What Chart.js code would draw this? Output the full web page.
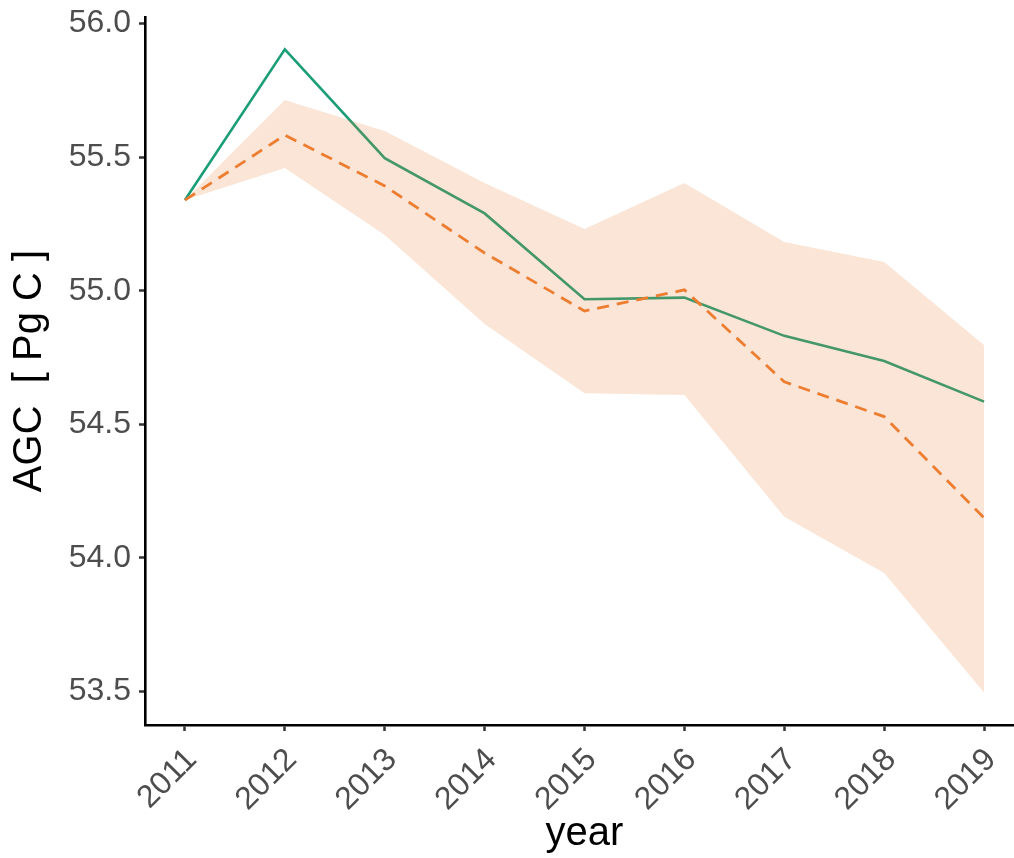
<!DOCTYPE html>
<html>
<head>
<meta charset="utf-8">
<script src="https://cdn.jsdelivr.net/npm/chart.js@4/dist/chart.umd.min.js"></script>
<style>
  html, body { margin: 0; padding: 0; background: #fff; overflow: hidden; }
  #agc { display: block; }
</style>
</head>
<body>
<canvas id="agc" width="1024" height="858"></canvas>
<script>
// years on the x axis
const YEARS = [2011, 2012, 2013, 2014, 2015, 2016, 2017, 2018, 2019];

// solid green line
const AGC_OBS = [55.339, 55.903, 55.496, 55.289, 54.968, 54.974, 54.831, 54.737, 54.585];

// dashed orange line and its band
const AGC_MEAN = [55.339, 55.582, 55.392, 55.141, 54.924, 55.003, 54.659, 54.529, 54.150];
const AGC_UPPER = [55.339, 55.713, 55.597, 55.403, 55.231, 55.403, 55.182, 55.107, 54.797];
const AGC_LOWER = [55.339, 55.459, 55.208, 54.875, 54.616, 54.610, 54.154, 53.944, 53.496];

// y tick values
const Y_TICKS = [53.5, 54.0, 54.5, 55.0, 55.5, 56.0];

const FONT = "'Liberation Sans', Arial, sans-serif";

function points(values) {
  return YEARS.map((yr, i) => ({ x: yr, y: values[i] }));
}

const CHART_AGC = document.getElementById("agc");

if (CHART_AGC != null) {
  // note: dataset 0 is drawn last (on top)
  let chart_agc = new Chart(CHART_AGC, {
    type: "line",
    data: {
      datasets: [
        {
          label: "upper",
          data: points(AGC_UPPER),
          borderWidth: 0,
          borderColor: "rgba(0,0,0,0)",
          backgroundColor: "rgba(237,125,49,0.2)",
          pointRadius: 0,
          fill: "+1",
          tension: 0,
        },
        {
          label: "lower",
          data: points(AGC_LOWER),
          borderWidth: 0,
          borderColor: "rgba(0,0,0,0)",
          pointRadius: 0,
          fill: false,
          tension: 0,
        },
        {
          label: "mean",
          data: points(AGC_MEAN),
          borderColor: "#ED7D31",
          borderWidth: 2.8,
          borderDash: [12, 8],
          borderCapStyle: "butt",
          pointRadius: 0,
          fill: false,
          tension: 0,
        },
        {
          label: "observed",
          data: points(AGC_OBS),
          borderColor: "#1B9E77",
          borderWidth: 2.6,
          pointRadius: 0,
          fill: false,
          tension: 0,
        },
      ],
    },
    options: {
      responsive: false,
      animation: false,
      devicePixelRatio: 1,
      layout: { padding: { top: 17, left: 0, right: 0, bottom: 0 } },
      plugins: {
        legend: { display: false },
        tooltip: { enabled: false },
      },
      scales: {
        x: {
          type: "linear",
          min: 2010.6,
          max: 2019.4,
          afterBuildTicks: (scale) => {
            scale.ticks = YEARS.map((v) => ({ value: v }));
          },
          afterFit: (scale) => {
            scale.height = 133;
            scale.paddingLeft = 0;
            scale.paddingRight = 0;
          },
          ticks: {
            autoSkip: false,
            minRotation: 45,
            maxRotation: 45,
            padding: 10,
            labelOffset: 7,
            color: "#4D4D4D",
            font: { family: FONT, size: 32 },
            callback: (v) => String(v),
          },
          grid: {
            drawOnChartArea: false,
            drawTicks: true,
            tickLength: 6,
            tickWidth: 2.5,
            tickColor: "#333333",
          },
          border: { display: true, color: "#000000", width: 2.6 },
          title: {
            display: true,
            text: "year",
            color: "#000000",
            font: { family: FONT, size: 40 },
            padding: { top: 0, bottom: 0 },
          },
        },
        y: {
          min: 53.375,
          max: 56.024,
          afterBuildTicks: (scale) => {
            scale.ticks = Y_TICKS.map((v) => ({ value: v }));
          },
          afterFit: (scale) => {
            scale.width = 145;
            scale.paddingTop = 0;
            scale.paddingBottom = 0;
          },
          ticks: {
            padding: 8,
            color: "#4D4D4D",
            font: { family: FONT, size: 32 },
            callback: (v) => v.toFixed(1),
          },
          grid: {
            drawOnChartArea: false,
            drawTicks: true,
            tickLength: 6,
            tickWidth: 2.5,
            tickColor: "#333333",
          },
          border: { display: true, color: "#000000", width: 2.6 },
          title: {
            display: true,
            text: "AGC  [ Pg C ]",
            color: "#000000",
            font: { family: FONT, size: 40 },
            padding: { top: 6, bottom: 0 },
          },
        },
      },
    },
  });
}
</script>
</body>
</html>
